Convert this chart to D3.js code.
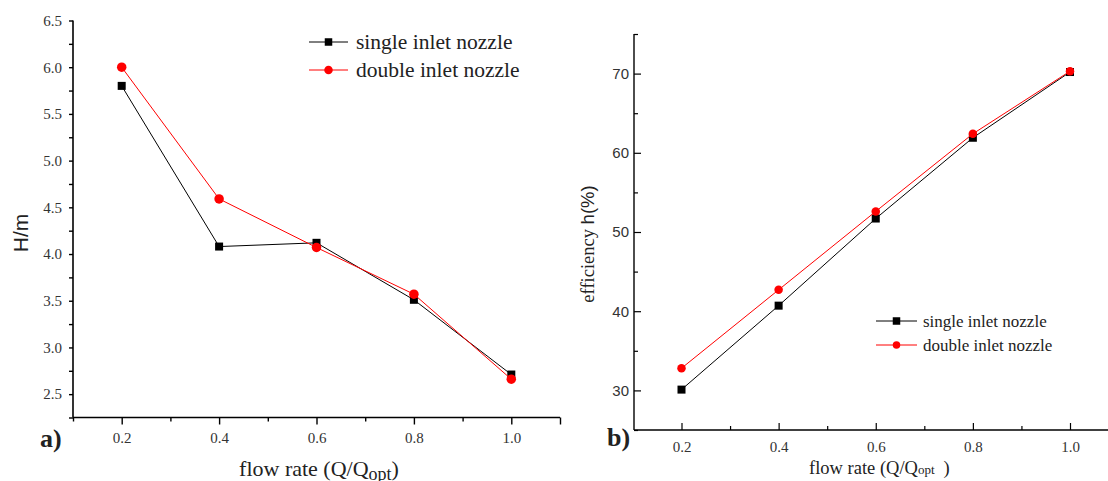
<!DOCTYPE html>
<html lang="en">
<head>
	<meta charset="UTF-8">
	<title>nozzle head and efficiency</title>
	<script src="https://d3js.org/d3.v7.min.js"></script>
	<style>
		body {
			margin: 0;
			background: #fff;
		}
		svg {
			display: block;
		}
		.tick-label {
			font-family: "Liberation Serif", serif;
			fill: #333;
		}
	</style>
</head>
<body>
<div id="viz"></div>
<script>
	// flow rate points
	var flow = [0.2, 0.4, 0.6, 0.8, 1.0];

	// chart a) head (m)
	var headSingle = [5.80, 4.08, 4.12, 3.51, 2.71];
	var headDouble = [6.00, 4.59, 4.07, 3.57, 2.66];
	var headTicks = [2.5, 3.0, 3.5, 4.0, 4.5, 5.0, 5.5, 6.0, 6.5];

	// chart b) efficiency (%)
	var effSingle = [30.1, 40.7, 51.7, 61.9, 70.2];
	var effDouble = [32.8, 42.7, 52.6, 62.4, 70.3];
	var effTicks = [30, 40, 50, 60, 70];

	var flowTicks = [0.2, 0.4, 0.6, 0.8, 1.0];
	var seriesNames = ['single inlet nozzle', 'double inlet nozzle'];

	var svg = d3.select('#viz').append('svg')
		.attr('width', 1108)
		.attr('height', 481);

	function isMajor(list, d) {
		return list.some(function (t) { return Math.abs(t - d) < 1e-9; });
	}

	function pts(xs, ys) {
		return xs.map(function (d, i) { return [d, ys[i]]; });
	}

	function drawSeries(g, x, y, data, color, shape, size) {
		var line = d3.line()
			.x(function (d) { return x(d[0]); })
			.y(function (d) { return y(d[1]); });
		g.append('path')
			.datum(data)
			.attr('fill', 'none')
			.attr('stroke', color)
			.attr('stroke-width', 1)
			.attr('d', line);
		if (shape === 'square') {
			g.selectAll(null).data(data).enter().append('rect')
				.attr('x', function (d) { return x(d[0]) - size / 2; })
				.attr('y', function (d) { return y(d[1]) - size / 2; })
				.attr('width', size)
				.attr('height', size)
				.attr('fill', color);
		} else {
			g.selectAll(null).data(data).enter().append('circle')
				.attr('cx', function (d) { return x(d[0]); })
				.attr('cy', function (d) { return y(d[1]); })
				.attr('r', size / 2)
				.attr('fill', color);
		}
	}

	function legend(g, lx, ly, gap, lineLen, textX, fontSize, sq, ci) {
		var colors = ['#000', '#ff0000'];
		seriesNames.forEach(function (name, i) {
			var yy = ly + i * gap;
			g.append('line')
				.attr('x1', lx).attr('x2', lx + lineLen)
				.attr('y1', yy).attr('y2', yy)
				.attr('stroke', colors[i]).attr('stroke-width', 1);
			if (i === 0) {
				g.append('rect')
					.attr('x', lx + lineLen / 2 - sq / 2).attr('y', yy - sq / 2)
					.attr('width', sq).attr('height', sq).attr('fill', colors[i]);
			} else {
				g.append('circle')
					.attr('cx', lx + lineLen / 2).attr('cy', yy)
					.attr('r', ci / 2).attr('fill', colors[i]);
			}
			g.append('text')
				.attr('x', textX)
				.attr('y', yy)
				.attr('dy', '0.33em')
				.style('font-family', '"Liberation Serif", serif')
				.style('font-size', fontSize + 'px')
				.style('fill', '#222')
				.text(name);
		});
	}

	// ---------- chart a) ----------
	var xa = d3.scaleLinear().domain([0.1, 1.1]).range([73, 560]);
	var ya = d3.scaleLinear().domain([2.25, 6.5]).range([417.5, 20.5]);

	var ga = svg.append('g');

	var xAxisA = d3.axisBottom(xa)
		.tickValues(d3.range(1, 12).map(function (d) { return d / 10; }))
		.tickSize(0)
		.tickFormat(function (d) { return isMajor(flowTicks, d) ? d3.format('.1f')(d) : ''; });
	var gxa = ga.append('g')
		.attr('transform', 'translate(0,' + ya.range()[0] + ')')
		.call(xAxisA);
	gxa.select('.domain').attr('stroke-width', 1.6).attr('d', 'M' + xa.range()[0] + ',0H' + xa.range()[1]);
	gxa.selectAll('.tick line')
		.attr('stroke-width', 1.4)
		.attr('y2', function (d) { return isMajor(flowTicks, d) || d > 1.05 ? 7 : 4; });
	gxa.selectAll('.tick text')
		.attr('class', 'tick-label')
		.attr('y', 15)
		.style('font-size', '15px');

	var yAxisA = d3.axisLeft(ya)
		.tickValues(d3.range(2.25, 6.51, 0.25))
		.tickSize(4)
		.tickFormat(function (d) { return isMajor(headTicks, d) ? d3.format('.1f')(d) : ''; });
	var gya = ga.append('g')
		.attr('transform', 'translate(' + xa.range()[0] + ',0)')
		.call(yAxisA);
	gya.select('.domain').attr('stroke-width', 1.6).attr('d', 'M0,' + ya.range()[1] + 'V' + ya.range()[0]);
	gya.selectAll('.tick line').attr('stroke-width', 1.4);
	gya.selectAll('.tick text')
		.attr('class', 'tick-label')
		.attr('x', -11)
		.style('font-size', '15px');

	drawSeries(ga, xa, ya, pts(flow, headSingle), '#000', 'square', 8);
	drawSeries(ga, xa, ya, pts(flow, headDouble), '#ff0000', 'circle', 9.5);

	legend(ga, 309, 42, 28, 39, 356, 21.5, 7.5, 8.5);

	ga.append('text')
		.attr('transform', 'translate(28,233) rotate(-90)')
		.attr('text-anchor', 'middle')
		.style('font-family', '"Liberation Sans", Arial, sans-serif')
		.style('font-size', '21px')
		.style('fill', '#222')
		.text('H/m');

	ga.append('text')
		.attr('x', 40).attr('y', 447)
		.style('font-family', '"Liberation Serif", serif')
		.style('font-size', '26px')
		.style('font-weight', 'bold')
		.style('fill', '#222')
		.text('a)');

	var ta = ga.append('text')
		.attr('x', 319).attr('y', 476)
		.attr('text-anchor', 'middle')
		.style('font-family', '"Liberation Serif", serif')
		.style('font-size', '22px')
		.style('fill', '#222');
	ta.append('tspan').text('flow rate (Q/Q');
	ta.append('tspan').attr('dy', 4).style('font-size', '18px').text('opt');
	ta.append('tspan').attr('dy', -4).text(')');

	// ---------- chart b) ----------
	var xb = d3.scaleLinear().domain([0.2, 1.0]).range([681.5, 1070]);
	var yb = d3.scaleLinear().domain([25, 75]).range([430, 34]);
	var xbStart = 634;

	var gb = svg.append('g');

	var xAxisB = d3.axisBottom(xb)
		.tickValues(d3.range(2, 12).map(function (d) { return d / 10; }))
		.tickSize(0)
		.tickFormat(function (d) { return isMajor(flowTicks, d) ? d3.format('.1f')(d) : ''; });
	var gxb = gb.append('g')
		.attr('transform', 'translate(0,' + yb.range()[0] + ')')
		.call(xAxisB);
	gxb.select('.domain').attr('stroke-width', 1.4).attr('d', 'M' + xbStart + ',0H1108');
	gxb.selectAll('.tick line')
		.attr('stroke-width', 1.2)
		.attr('y2', function (d) { return isMajor(flowTicks, d) ? -7 : -4; });
	gxb.selectAll('.tick text')
		.attr('class', 'tick-label')
		.attr('y', 11)
		.style('font-size', '15px');

	var yAxisB = d3.axisLeft(yb)
		.tickValues(d3.range(25, 76, 5))
		.tickSize(0)
		.tickFormat(function (d) { return effTicks.indexOf(d) >= 0 ? d : ''; });
	var gyb = gb.append('g')
		.attr('transform', 'translate(' + xbStart + ',0)')
		.call(yAxisB);
	gyb.select('.domain').attr('stroke-width', 1.4).attr('d', 'M0,' + yb.range()[1] + 'V' + yb.range()[0]);
	gyb.selectAll('.tick line')
		.attr('stroke-width', 1.2)
		.attr('x2', function (d) { return effTicks.indexOf(d) >= 0 ? 7 : 4; });
	gyb.selectAll('.tick text')
		.attr('x', -5)
		.style('font-family', '"Liberation Sans", Arial, sans-serif')
		.style('font-size', '15px')
		.style('fill', '#333');

	drawSeries(gb, xb, yb, pts(flow, effSingle), '#000', 'square', 8);
	drawSeries(gb, xb, yb, pts(flow, effDouble), '#ff0000', 'circle', 8.5);

	legend(gb, 876, 321, 24, 41, 923, 17, 7.5, 7.5);

	var tyb = gb.append('text')
		.attr('transform', 'translate(594,244) rotate(-90)')
		.attr('text-anchor', 'middle')
		.style('font-family', '"Liberation Serif", serif')
		.style('font-size', '18.5px')
		.style('fill', '#222');
	tyb.append('tspan').text('efficiency  ');
	tyb.append('tspan').style('font-family', '"Liberation Sans", Arial, sans-serif').text('h(%)');

	gb.append('text')
		.attr('x', 607).attr('y', 446)
		.style('font-family', '"Liberation Serif", serif')
		.style('font-size', '26px')
		.style('font-weight', 'bold')
		.style('fill', '#222')
		.text('b)');

	var tb = gb.append('text')
		.attr('x', 809).attr('y', 474)
		.style('font-family', '"Liberation Serif", serif')
		.style('font-size', '18.5px')
		.style('fill', '#222');
	tb.append('tspan').text('flow rate (Q/Q');
	tb.append('tspan').style('font-size', '13px').text('opt');
	tb.append('tspan').attr('dx', 9).text(')');
</script>
</body>
</html>
